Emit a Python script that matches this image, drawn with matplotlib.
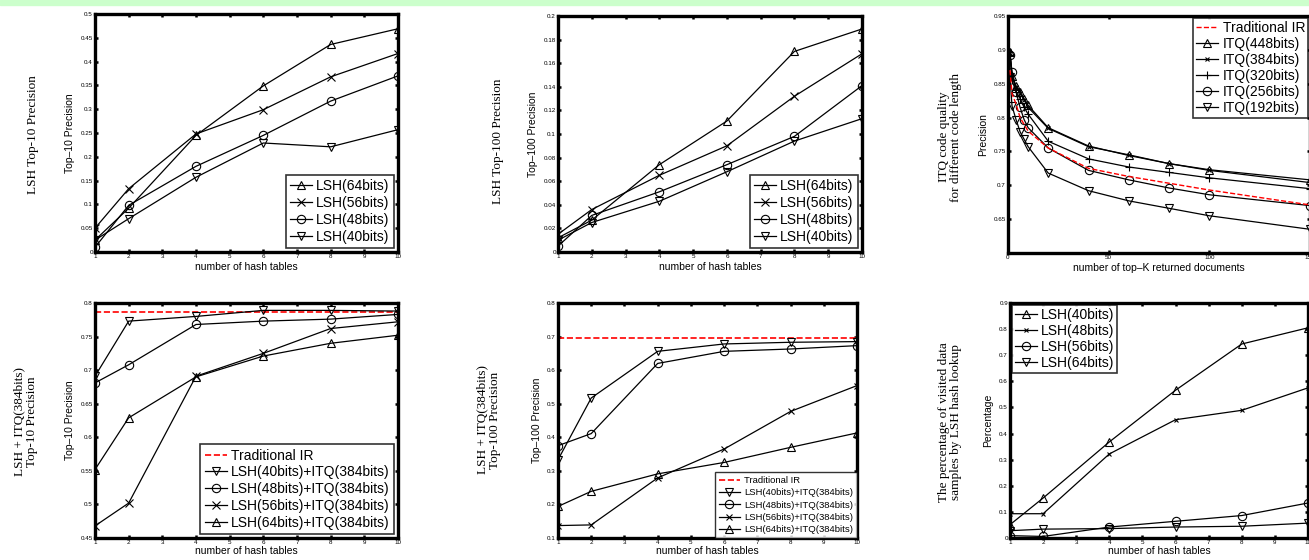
import matplotlib
matplotlib.use("Agg")
import matplotlib.pyplot as plt
import numpy as np
from matplotlib.ticker import FuncFormatter
from matplotlib.patches import Rectangle

plt.rcParams['font.family'] = ['Liberation Sans', 'DejaVu Sans']

W, H = 1309, 560

# ---- data ----
tables = [1, 2, 4, 6, 8, 10]

# top-10 precision, plain LSH
p10_lsh64 = [0.025, 0.092, 0.245, 0.349, 0.436, 0.469]
p10_lsh56 = [0.050, 0.133, 0.248, 0.299, 0.368, 0.417]
p10_lsh48 = [0.010, 0.098, 0.180, 0.245, 0.317, 0.370]
p10_lsh40 = [0.025, 0.070, 0.157, 0.229, 0.221, 0.257]

# top-100 precision, plain LSH
p100_lsh64 = [0.012, 0.027, 0.074, 0.111, 0.170, 0.189]
p100_lsh56 = [0.015, 0.036, 0.065, 0.090, 0.132, 0.168]
p100_lsh48 = [0.005, 0.031, 0.051, 0.074, 0.098, 0.141]
p100_lsh40 = [0.010, 0.025, 0.043, 0.068, 0.094, 0.113]

# ITQ precision vs top-K
topk = [1, 2, 4, 6, 8, 10, 20, 40, 60, 80, 100, 150]
itq_trad = [0.870, 0.835, 0.820, 0.800, 0.790, 0.780, 0.755, 0.725, 0.713, 0.703, 0.693, 0.671]
itq448 = [0.897, 0.862, 0.847, 0.838, 0.828, 0.818, 0.785, 0.758, 0.744, 0.732, 0.723, 0.708]
itq384 = [0.895, 0.860, 0.845, 0.836, 0.826, 0.815, 0.784, 0.757, 0.745, 0.732, 0.722, 0.704]
itq320 = [0.893, 0.855, 0.838, 0.828, 0.815, 0.805, 0.765, 0.739, 0.727, 0.719, 0.711, 0.695]
itq256 = [0.892, 0.868, 0.838, 0.815, 0.797, 0.785, 0.755, 0.722, 0.708, 0.696, 0.686, 0.670]
itq192 = [0.860, 0.817, 0.797, 0.779, 0.768, 0.757, 0.718, 0.692, 0.677, 0.666, 0.655, 0.635]

# LSH + ITQ(384) top-10
trad10 = 0.786
c10_lsh40 = [0.691, 0.773, 0.780, 0.789, 0.789, 0.788]
c10_lsh48 = [0.681, 0.708, 0.768, 0.773, 0.776, 0.783]
c10_lsh56 = [0.468, 0.502, 0.691, 0.725, 0.762, 0.772]
c10_lsh64 = [0.552, 0.629, 0.690, 0.721, 0.740, 0.752]

# LSH + ITQ(384) top-100
trad100 = 0.696
c100_lsh40 = [0.333, 0.517, 0.656, 0.678, 0.683, 0.685]
c100_lsh48 = [0.375, 0.411, 0.620, 0.656, 0.663, 0.673]
c100_lsh56 = [0.137, 0.139, 0.279, 0.365, 0.477, 0.554]
c100_lsh64 = [0.194, 0.239, 0.291, 0.325, 0.370, 0.413]

# visited percentage
vis_lsh40 = [0.051, 0.153, 0.368, 0.566, 0.743, 0.805]
vis_lsh48 = [0.093, 0.093, 0.322, 0.453, 0.489, 0.575]
vis_lsh56 = [0.009, 0.006, 0.042, 0.064, 0.086, 0.134]
vis_lsh64 = [0.028, 0.034, 0.036, 0.042, 0.045, 0.057]


def rect(l, r, t, b):
    return [l / W, 1 - b / H, (r - l) / W, (b - t) / H]


def style(ax, xlim, ylim, xt, yt):
    ax.set_xlim(xlim)
    ax.set_ylim(ylim)
    ax.set_xticks(xt)
    ax.set_yticks(yt)
    ax.xaxis.set_major_formatter(FuncFormatter(lambda v, p: '%g' % v))
    ax.yaxis.set_major_formatter(FuncFormatter(lambda v, p: '%g' % v))
    ax.tick_params(direction='in', length=2.5, width=1.8, labelsize=4.5,
                   top=True, right=True, pad=1.5)
    for s in ax.spines.values():
        s.set_linewidth(2.4)


mk = dict(color='black', lw=0.9, ms=6, mfc='none', mew=0.8)

fig = plt.figure(figsize=(W / 100, H / 100), dpi=100)
fig.patches.append(Rectangle((0, 1 - 5 / H), 1, 5 / H, transform=fig.transFigure,
                             color='#ccffcc', zorder=0))

serif = dict(family='Liberation Serif', fontsize=9.5, rotation=90,
             ha='center', va='center', linespacing=1.1)
lab = 7.5

# panel 1
ax = fig.add_axes(rect(95, 398, 14, 252))
ax.plot(tables, p10_lsh64, marker='^', label='LSH(64bits)', **mk)
ax.plot(tables, p10_lsh56, marker='x', label='LSH(56bits)', **mk)
ax.plot(tables, p10_lsh48, marker='o', label='LSH(48bits)', **mk)
ax.plot(tables, p10_lsh40, marker='v', label='LSH(40bits)', **mk)
style(ax, (1, 10), (0, 0.5), range(1, 11), np.arange(0, 0.51, 0.05))
ax.set_xlabel('number of hash tables', fontsize=lab, labelpad=2)
ax.set_ylabel('Top–10 Precision', fontsize=lab, labelpad=4)
leg = ax.legend(loc='lower right', fontsize=10, handlelength=1.6, handletextpad=0.3,
                borderaxespad=0.3, labelspacing=0.2, fancybox=False, edgecolor='black',
                borderpad=0.3)
leg.get_frame().set_linewidth(1.2)
fig.text(33 / W, 1 - 135 / H, 'LSH Top-10 Precision', **serif)

# panel 2
ax = fig.add_axes(rect(558, 862, 16, 252))
ax.plot(tables, p100_lsh64, marker='^', label='LSH(64bits)', **mk)
ax.plot(tables, p100_lsh56, marker='x', label='LSH(56bits)', **mk)
ax.plot(tables, p100_lsh48, marker='o', label='LSH(48bits)', **mk)
ax.plot(tables, p100_lsh40, marker='v', label='LSH(40bits)', **mk)
style(ax, (1, 10), (0, 0.2), range(1, 11), np.arange(0, 0.201, 0.02))
ax.set_xlabel('number of hash tables', fontsize=lab, labelpad=2)
ax.set_ylabel('Top–100 Precision', fontsize=lab, labelpad=4)
leg = ax.legend(loc='lower right', fontsize=10, handlelength=1.6, handletextpad=0.3,
                borderaxespad=0.3, labelspacing=0.2, fancybox=False, edgecolor='black',
                borderpad=0.3)
leg.get_frame().set_linewidth(1.2)
fig.text(498 / W, 1 - 141 / H, 'LSH Top-100 Precision', **serif)

# panel 3
ax = fig.add_axes(rect(1008, 1310, 16, 253))
ax.plot(topk, itq_trad, '--', color='red', lw=1.0, label='Traditional IR', zorder=5)
ax.plot(topk, itq448, marker='^', label='ITQ(448bits)', **mk)
ax.plot(topk, itq384, marker='x', label='ITQ(384bits)', **dict(mk, ms=3))
ax.plot(topk, itq320, marker='+', label='ITQ(320bits)', **mk)
ax.plot(topk, itq256, marker='o', label='ITQ(256bits)', **mk)
ax.plot(topk, itq192, marker='v', label='ITQ(192bits)', **mk)
style(ax, (0, 150), (0.6, 0.95), [0, 50, 100, 150], np.arange(0.65, 0.951, 0.05))
ax.set_xlabel('number of top–K returned documents', fontsize=lab, labelpad=2)
ax.set_ylabel('Precision', fontsize=lab, labelpad=4)
leg = ax.legend(loc='upper right', fontsize=10, handlelength=1.6, handletextpad=0.3,
                borderaxespad=0.15, labelspacing=0.15, fancybox=False, edgecolor='black',
                borderpad=0.2)
leg.get_frame().set_linewidth(1.2)
fig.text(950 / W, 1 - 137 / H, 'ITQ code quality\nfor different code length', **serif)

# panel 4
ax = fig.add_axes(rect(95, 398, 303, 538))
ax.axhline(trad10, ls='--', color='red', lw=1.2, label='Traditional IR')
ax.plot(tables, c10_lsh40, marker='v', label='LSH(40bits)+ITQ(384bits)', **mk)
ax.plot(tables, c10_lsh48, marker='o', label='LSH(48bits)+ITQ(384bits)', **mk)
ax.plot(tables, c10_lsh56, marker='x', label='LSH(56bits)+ITQ(384bits)', **mk)
ax.plot(tables, c10_lsh64, marker='^', label='LSH(64bits)+ITQ(384bits)', **mk)
style(ax, (1, 10), (0.45, 0.8), range(1, 11), np.arange(0.45, 0.801, 0.05))
ax.set_xlabel('number of hash tables', fontsize=lab, labelpad=1)
ax.set_ylabel('Top–10 Precision', fontsize=lab, labelpad=4)
leg = ax.legend(loc='lower right', fontsize=10, handlelength=1.6, handletextpad=0.3,
                borderaxespad=0.3, labelspacing=0.2, fancybox=False, edgecolor='black',
                borderpad=0.3)
leg.get_frame().set_linewidth(1.2)
fig.text(26 / W, 1 - 422 / H, 'LSH + ITQ(384bits)\nTop-10 Precision', **serif)

# panel 5
ax = fig.add_axes(rect(558, 857, 303, 538))
ax.axhline(trad100, ls='--', color='red', lw=1.2, label='Traditional IR')
ax.plot(tables, c100_lsh40, marker='v', label='LSH(40bits)+ITQ(384bits)', **mk)
ax.plot(tables, c100_lsh48, marker='o', label='LSH(48bits)+ITQ(384bits)', **mk)
ax.plot(tables, c100_lsh56, marker='x', label='LSH(56bits)+ITQ(384bits)', **dict(mk, ms=4))
ax.plot(tables, c100_lsh64, marker='^', label='LSH(64bits)+ITQ(384bits)', **mk)
style(ax, (1, 10), (0.1, 0.8), range(1, 11), np.arange(0.1, 0.801, 0.1))
ax.set_xlabel('number of hash tables', fontsize=lab, labelpad=1)
ax.set_ylabel('Top–100 Precision', fontsize=lab, labelpad=4)
leg = ax.legend(loc='lower right', fontsize=6.8, handlelength=2.2, handletextpad=0.5,
                borderaxespad=0.0, labelspacing=0.35, fancybox=False, edgecolor='black',
                borderpad=0.4)
leg.get_frame().set_linewidth(1.0)
fig.text(489 / W, 1 - 420 / H, 'LSH + ITQ(384bits)\nTop-100 Precision', **serif)

# panel 6
ax = fig.add_axes(rect(1010, 1308, 303, 538))
ax.plot(tables, vis_lsh40, marker='^', label='LSH(40bits)', **mk)
ax.plot(tables, vis_lsh48, marker='x', label='LSH(48bits)', **dict(mk, ms=3.5))
ax.plot(tables, vis_lsh56, marker='o', label='LSH(56bits)', **mk)
ax.plot(tables, vis_lsh64, marker='v', label='LSH(64bits)', **mk)
style(ax, (1, 10), (0, 0.9), range(1, 11), np.arange(0, 0.901, 0.1))
ax.set_xlabel('number of hash tables', fontsize=lab, labelpad=1)
ax.set_ylabel('Percentage', fontsize=lab, labelpad=4)
leg = ax.legend(loc='upper left', fontsize=10, handlelength=1.6, handletextpad=0.3,
                borderaxespad=0.15, labelspacing=0.15, fancybox=False, edgecolor='black',
                borderpad=0.2)
leg.get_frame().set_linewidth(1.2)
fig.text(950 / W, 1 - 422 / H, 'The percentage of visited data\nsamples by LSH hash lookup', **serif)

fig.savefig('out.png', dpi=100)
